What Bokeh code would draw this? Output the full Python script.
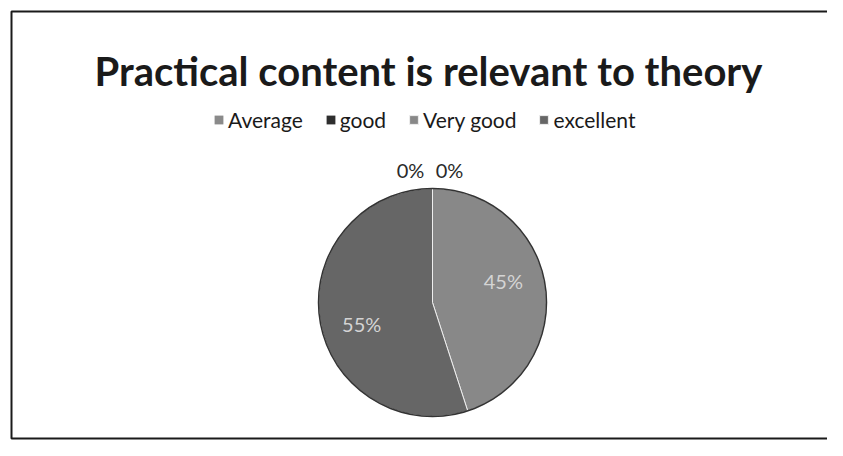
import math
from bokeh.plotting import figure
from bokeh.models import Range1d, Legend, LegendItem, Label, ColumnDataSource
from bokeh.embed import file_html
from bokeh.resources import INLINE
from bokeh.core.properties import value

# ---- data ----
title_text = "Practical content is relevant to theory"
categories = ["Average", "good", "Very good", "excellent"]
percent = [0, 0, 45, 55]
slice_colors = ["#8a8a8a", "#2e2e2e", "#888888", "#666666"]

W, H = 827, 440
p = figure(width=W, height=H, output_backend="svg", toolbar_location=None,
           x_range=Range1d(0, W), y_range=Range1d(0, H),
           min_border=0, background_fill_color="white", border_fill_color="white")
p.xaxis.visible = False
p.yaxis.visible = False
p.grid.visible = False
p.outline_line_color = None

# screen-y (from top) -> data y
def Y(y_top):
    return H - y_top

cx, cy, r = 432, Y(302), 114

# chart border: left, top and bottom (right edge lies outside the picture)
p.line(x=[W + 20, 11, 11, W + 20], y=[Y(11), Y(11), Y(438), Y(438)],
       line_color="#1a1a1a", line_width=2)

# title
p.add_layout(Label(x=428, y=Y(70), text=title_text, text_align="center",
                   text_baseline="alphabetic", text_font="Lato", text_font_style="bold",
                   text_font_size="40px", text_color="#1a1a1a"))

# wedges
total = sum(percent)
start = math.pi / 2
items = []
lab_x, lab_y, lab_t, lab_dx, lab_c = [], [], [], [], []
zero_count = 0
for cat, val, col in zip(categories, percent, slice_colors):
    ang = 2 * math.pi * val / total
    end = start - ang
    src = ColumnDataSource(dict(x=[cx], y=[cy], s=[start], e=[end]))
    if val > 0:
        rnd = p.wedge(x="x", y="y", radius=r, start_angle="s", end_angle="e",
                      direction="clock", source=src, fill_color=col,
                      line_color="#eeeeee", line_width=1)
    else:
        rnd = p.wedge(x="x", y="y", radius=0, start_angle="s", end_angle="e",
                      direction="clock", source=src, fill_color=col,
                      line_color=None)
    items.append(LegendItem(label=cat, renderers=[rnd]))
    mid = (start + end) / 2
    if val > 0:
        a = mid + 0.14
        lab_x.append(cx + 0.65 * r * math.cos(a))
        lab_y.append(cy + 0.65 * r * math.sin(a))
        lab_dx.append(0)
        lab_c.append("#d4d4d4")
    else:
        lab_x.append(cx + 1.0 * r * math.cos(mid))
        lab_y.append(cy + 1.16 * r * math.sin(mid))
        lab_dx.append(-22 if zero_count == 0 else 17)
        lab_c.append("#2a2a2a")
        zero_count += 1
    lab_t.append(f"{val}%")
    start = end

# pie outline
p.circle(x=[cx], y=[cy], radius=r, fill_color=None, line_color="#333333", line_width=1.5)

lsrc = ColumnDataSource(dict(x=lab_x, y=lab_y, t=lab_t, dx=lab_dx, c=lab_c))
p.text(x="x", y="y", text="t", x_offset="dx", source=lsrc, text_align="center",
       text_baseline="middle", text_font=value("Lato"), text_font_size="20px",
       text_color="c")

legend = Legend(items=items, orientation="horizontal", location=(213, 308),
                label_text_font="Lato", label_text_font_size="21px",
                label_text_color="#1a1a1a", glyph_width=11, glyph_height=11,
                spacing=22, label_standoff=4, margin=0, padding=0,
                border_line_color=None, background_fill_alpha=0)
p.add_layout(legend)

open("out.html", "w").write(file_html(p, INLINE))
